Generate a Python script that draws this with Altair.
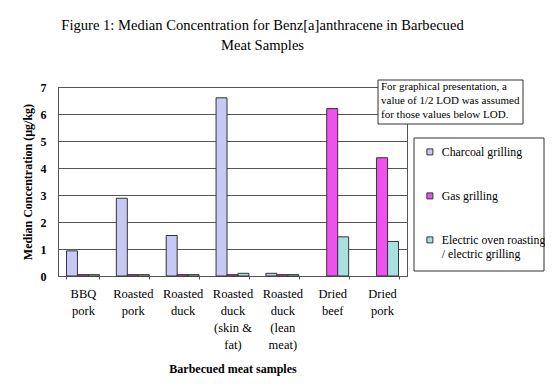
import altair as alt
import pandas as pd

categories = ["BBQ|pork", "Roasted|pork", "Roasted|duck", "Roasted|duck|(skin &|fat)",
              "Roasted|duck|(lean|meat)", "Dried|beef", "Dried|pork"]
series = ["Charcoal grilling", "Gas grilling", "Electric oven roasting|/ electric grilling"]
charcoal = [0.93, 2.88, 1.5, 6.6, 0.1, None, None]
gas = [0.05, 0.05, 0.05, 0.05, 0.05, 6.2, 4.38]
electric = [0.05, 0.05, 0.05, 0.1, 0.05, 1.45, 1.28]
y_ticks = [0, 1, 2, 3, 4, 5, 6, 7]
note_lines = ["For graphical presentation, a", "value of 1/2 LOD was assumed", "for those values below LOD."]
colors = ["#c8c8f4", "#f050f0", "#a8e0e0"]

rows = []
for i, c in enumerate(categories):
    for s, vals in zip(series, [charcoal, gas, electric]):
        if vals[i] is not None:
            rows.append({"cat": c, "series": s, "value": vals[i]})
df = pd.DataFrame(rows)

FONT = "Liberation Serif"

bars = alt.Chart(df).mark_bar(stroke="#333333", strokeWidth=1).encode(
    x=alt.X("cat:N", sort=categories, title="Barbecued meat samples",
            scale=alt.Scale(paddingInner=0.34, paddingOuter=0.17),
            axis=alt.Axis(labelAngle=0, labelExpr="split(datum.label, '|')",
                          labelFont=FONT, labelFontSize=12.5, labelLineHeight=17,
                          labelFontWeight="normal",
                          labelBaseline="top", labelPadding=8, labelColor="black",
                          tickBand="extent", tickColor="#555", tickSize=3,
                          domainColor="#555", titleFont=FONT, titleFontSize=12,
                          titleFontWeight="bold", titleColor="black", titlePadding=13,
                          grid=False)),
    xOffset=alt.XOffset("series:N", sort=series),
    y=alt.Y("value:Q", title="Median Concentration (µg/kg)",
            scale=alt.Scale(domain=[0, 7]),
            axis=alt.Axis(values=y_ticks, ticks=False, labelFont=FONT, labelFontSize=12,
                          labelFontWeight="bold", labelColor="black", labelPadding=12,
                          domainColor="#555", gridColor="#555", gridOpacity=1,
                          titleFont=FONT, titleFontSize=12, titleFontWeight="bold",
                          titleColor="black", titlePadding=6)),
    color=alt.Color("series:N", sort=series,
                    scale=alt.Scale(domain=series, range=colors),
                    legend=alt.Legend(title=None, orient="none", legendX=366, legendY=59,
                                      labelExpr="split(datum.label, '|')",
                                      labelFont=FONT, labelFontSize=11.8,
                                      labelFontWeight="normal", labelOffset=6,
                                      labelColor="black", symbolType="square",
                                      symbolSize=36, symbolStrokeColor="#333",
                                      symbolStrokeWidth=1, padding=0, rowPadding=31,
                                      labelLimit=200)),
)

legend_box = alt.Chart(alt.Data(values=[{}])).mark_rect(
    fill="white", stroke="#333", strokeWidth=1
).encode(x=alt.value(356), x2=alt.value(486), y=alt.value(51), y2=alt.value(184))

note_box = alt.Chart(alt.Data(values=[{}])).mark_rect(
    fill="white", stroke="#333", strokeWidth=1
).encode(x=alt.value(320), x2=alt.value(465), y=alt.value(-7), y2=alt.value(37))

note_text = alt.Chart(alt.Data(values=[{}])).mark_text(
    align="left", baseline="top", font=FONT, fontSize=11, lineHeight=14, color="black",
    fontWeight="normal"
).encode(x=alt.value(323), y=alt.value(-6), text=alt.value(note_lines))

chart = alt.layer(legend_box, bars, note_box, note_text).properties(
    width=349, height=189,
    title=alt.TitleParams(["Figure 1: Median Concentration for Benz[a]anthracene in Barbecued",
                           "Meat Samples"],
                          font=FONT, fontSize=14.6, fontWeight="normal", lineHeight=20,
                          color="black", anchor="middle", dx=30, offset=27),
    autosize=alt.AutoSizeParams(type="none"),
    padding={"left": 50, "top": 79, "right": 138, "bottom": 100},
).configure(background="white", font=FONT).configure_view(stroke="#555", strokeWidth=1)

chart.save("out.html", embed_options={"renderer": "svg", "actions": False})
